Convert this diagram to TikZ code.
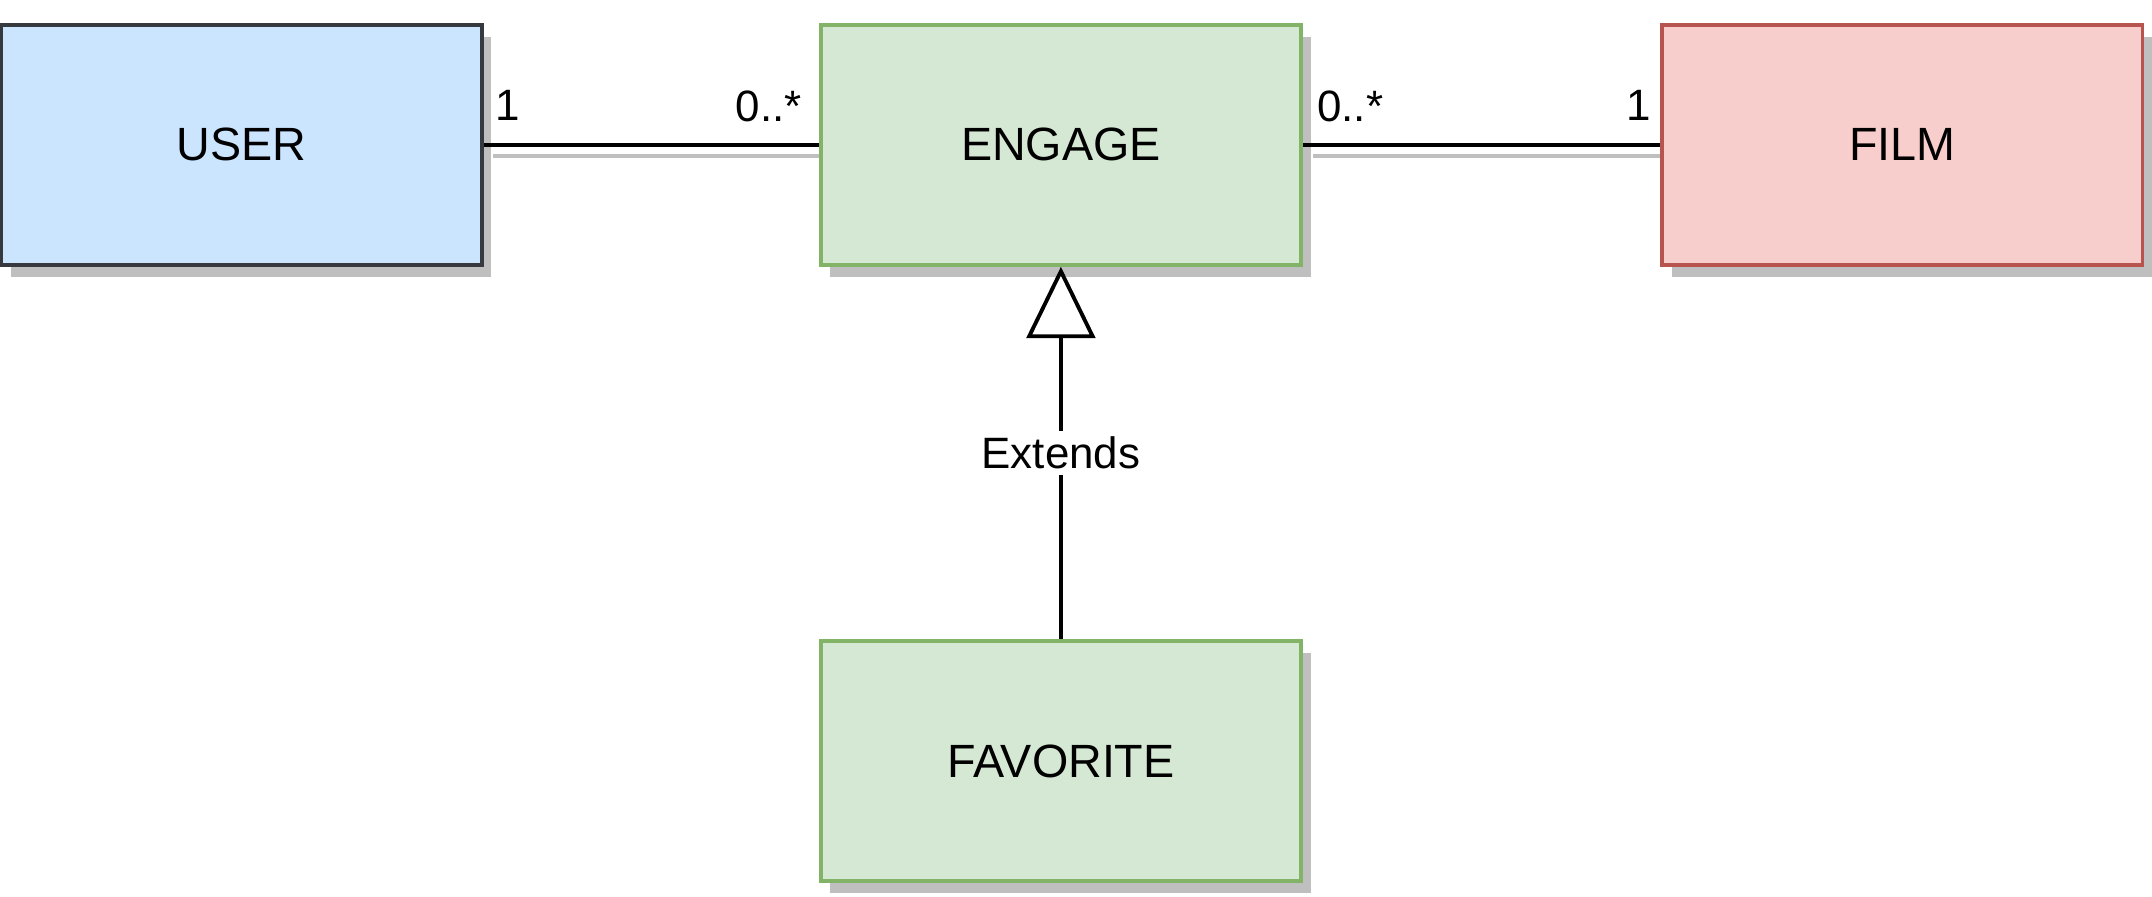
\documentclass[tikz,border=0pt]{standalone}
\usepackage{fontspec}
\setmainfont{Liberation Sans}
\usetikzlibrary{arrows.meta,shadows}
\definecolor{userfill}{HTML}{CCE5FF}
\definecolor{userdraw}{HTML}{36393D}
\definecolor{greenfill}{HTML}{D5E8D4}
\definecolor{greendraw}{HTML}{82B366}
\definecolor{filmfill}{HTML}{F8CECC}
\definecolor{filmdraw}{HTML}{B85450}
\definecolor{shadowgray}{HTML}{BFBFBF}
\tikzset{
    entity/.style={draw, line width=1.4pt, minimum width=175pt, minimum height=87.5pt,
        inner sep=0pt, font=\fontsize{17}{20}\selectfont,
        drop shadow={shadow xshift=3.5pt, shadow yshift=-4.5pt, fill=shadowgray, opacity=1}},
    link/.style={line width=1.4pt},
    linkshadow/.style={line width=1.4pt, draw=shadowgray},
    extends/.style={line width=1.4pt, -{Triangle[open, width=25pt, length=26pt]}},
    mult/.style={font=\fontsize{16}{19}\selectfont, inner sep=0pt},
}
\newcommand\Multiplicity[3]{%
    \node[mult, anchor=#1] at (#2) {#3};
}

\begin{document}
\begin{tikzpicture}[x=0.5pt,y=-0.5pt]
    \useasboundingbox (0,0) rectangle (1568,653);
    % entities
    \node[entity, fill=userfill, draw=userdraw] (user) at (176,105.5) {USER};
    \node[entity, fill=greenfill, draw=greendraw] (engage) at (773,105.5) {ENGAGE};
    \node[entity, fill=filmfill, draw=filmdraw] (film) at (1386,105.5) {FILM};
    \node[entity, fill=greenfill, draw=greendraw] (favorite) at (773,554.5) {FAVORITE};
    % associations
    \draw[linkshadow] ([shift={(7,8)}]user.east) -- ([yshift=-4pt]engage.west);
    \draw[link] (user) -- (engage);
    \Multiplicity{base west}{[shift={(8,-18)}]user.east}{1}
    \Multiplicity{base east}{[shift={(-12,-17)}]engage.west}{0..*}
    \draw[linkshadow] ([shift={(7,8)}]engage.east) -- ([yshift=-4pt]film.west);
    \draw[link] (engage) -- (film);
    \Multiplicity{base west}{[shift={(10,-17)}]engage.east}{0..*}
    \Multiplicity{base east}{[shift={(-6,-18)}]film.west}{1}
    % generalisation
    \draw[extends] (favorite) -- (engage)
        node[midway, fill=white, inner sep=2pt, font=\fontsize{16}{19}\selectfont] (extlabel) {Extends};
\end{tikzpicture}
\end{document}
